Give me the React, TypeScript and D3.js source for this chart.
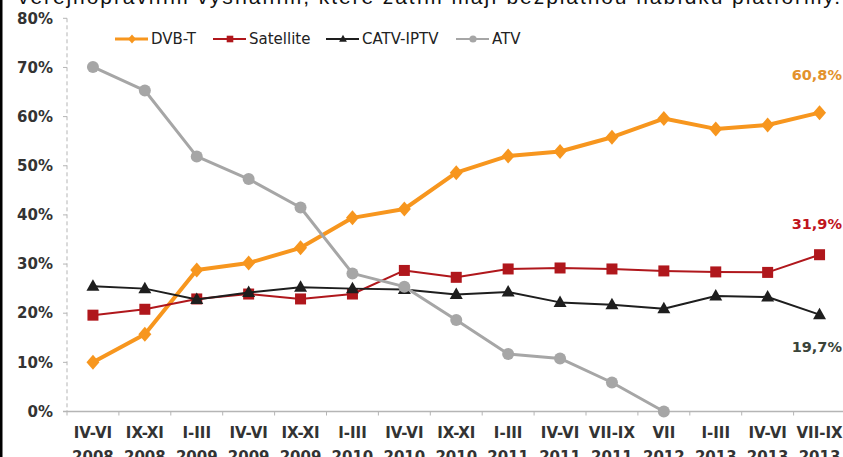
import React from 'react';
import * as d3 from 'd3';

// periods on the x axis (two lines each)
const periods = ['IV-VI', 'IX-XI', 'I-III', 'IV-VI', 'IX-XI', 'I-III', 'IV-VI', 'IX-XI', 'I-III', 'IV-VI', 'VII-IX', 'VII', 'I-III', 'IV-VI', 'VII-IX'];
const years = ['2008', '2008', '2009', '2009', '2009', '2010', '2010', '2010', '2011', '2011', '2011', '2012', '2013', '2013', '2013'];

const dvbt = [10.0, 15.7, 28.8, 30.2, 33.3, 39.4, 41.2, 48.6, 52.0, 52.9, 55.8, 59.6, 57.5, 58.3, 60.8];
const satellite = [19.6, 20.8, 22.9, 23.9, 22.9, 23.9, 28.7, 27.3, 29.0, 29.2, 29.0, 28.6, 28.4, 28.3, 31.9];
const catv = [25.5, 25.0, 22.8, 24.2, 25.3, 25.0, 24.8, 23.8, 24.3, 22.2, 21.7, 20.9, 23.5, 23.3, 19.7];
const atv = [70.1, 65.3, 51.9, 47.3, 41.5, 28.1, 25.4, 18.6, 11.7, 10.8, 5.9, 0.0];

const yTicks = [0, 10, 20, 30, 40, 50, 60, 70, 80];

const W = 843;
const H = 457;
const FONT = "'DejaVu Sans', sans-serif";

const series = [
  { name: 'DVB-T', values: dvbt, color: '#F7961E', width: 4, marker: 'diamond' },
  { name: 'Satellite', values: satellite, color: '#B0171C', width: 2, marker: 'square' },
  { name: 'CATV-IPTV', values: catv, color: '#1E1E1E', width: 2, marker: 'triangle' },
  { name: 'ATV', values: atv, color: '#A6A6A6', width: 3, marker: 'circle' },
];

const endLabels = [
  { text: '60,8%', value: 60.8, dy: -38, color: '#E3922C' },
  { text: '31,9%', value: 31.9, dy: -31, color: '#C0141C' },
  { text: '19,7%', value: 19.7, dy: 32, color: '#3A4439' },
];

function Marker({ kind, x, y, color, k = 1 }: { kind: string; x: number; y: number; color: string; k?: number }) {
  if (kind === 'diamond') {
    return <path d={`M${x},${y - 7.5 * k}L${x + 6.5 * k},${y}L${x},${y + 7.5 * k}L${x - 6.5 * k},${y}Z`} fill={color} />;
  }
  if (kind === 'square') {
    return <rect x={x - 5.5 * k} y={y - 5.5 * k} width={11 * k} height={11 * k} fill={color} />;
  }
  if (kind === 'triangle') {
    return <path d={`M${x},${y - 7 * k}L${x + 6.5 * k},${y + 4.5 * k}L${x - 6.5 * k},${y + 4.5 * k}Z`} fill={color} />;
  }
  return <circle cx={x} cy={y} r={6 * k} fill={color} />;
}

export default function App() {
  const x = d3.scaleBand<number>()
    .domain(d3.range(periods.length))
    .range([67, 67 + 51.9 * periods.length]);
  const y = d3.scaleLinear().domain([0, 80]).range([411.5, 18.3]);
  const cx = (i: number) => (x(i) as number) + x.bandwidth() / 2;

  const line = d3.line<number>()
    .x((_, i) => cx(i))
    .y(d => y(d));

  const legendX = [132, 230, 343, 473];
  const legendY = 39;

  return (
    <div style={{ position: 'absolute', left: 0, top: 0 }}>
      <svg width={W} height={H} style={{ display: 'block', background: '#fff' }}>
        {/* cut-off sentence above the chart */}
        <text x={18} y={4} fontFamily="'Liberation Sans', Arial, sans-serif" fontSize={21} fill="#111"
          textLength={822} lengthAdjust="spacing">
          veřejnoprávním vysíláním, které zatím mají bezplatnou nabídku platformy.
        </text>
        <rect x={0} y={0} width={2.5} height={H} fill="#000" />

        {/* y axis */}
        <line x1={67} x2={67} y1={y(80)} y2={y(0)} stroke="#B5B5B5" strokeDasharray="4,3" />
        {yTicks.map(t => (
          <g key={t}>
            <line x1={63} x2={67} y1={y(t)} y2={y(t)} stroke="#B5B5B5" />
            <text x={53} y={y(t)} dy="0.35em" textAnchor="end" fontFamily={FONT} fontWeight="bold"
              fontSize={15} fill="#333">{t}%</text>
          </g>
        ))}

        {/* x axis */}
        <line x1={63} x2={W} y1={y(0)} y2={y(0)} stroke="#B5B5B5" strokeWidth={1.5} />
        {d3.range(periods.length + 1).map(i => (
          <line key={i} x1={67 + i * x.step()} x2={67 + i * x.step()} y1={y(0)} y2={y(0) + 4} stroke="#B5B5B5" />
        ))}
        {periods.map((p, i) => (
          <text key={i} x={cx(i)} y={437.5} textAnchor="middle" fontFamily={FONT} fontWeight="bold"
            fontSize={15} fill="#333">
            <tspan x={cx(i)}>{p}</tspan>
            <tspan x={cx(i)} dy={24}>{years[i]}</tspan>
          </text>
        ))}

        {/* series */}
        {series.map(s => (
          <g key={s.name}>
            <path d={line(s.values) ?? ''} fill="none" stroke={s.color} strokeWidth={s.width} strokeLinejoin="round" />
            {s.values.map((v, i) => (
              <Marker key={i} kind={s.marker} x={cx(i)} y={y(v)} color={s.color} />
            ))}
          </g>
        ))}

        {/* end labels */}
        {endLabels.map(l => (
          <text key={l.text} x={842} y={y(l.value) + l.dy} dy="0.35em" textAnchor="end" fontFamily={FONT}
            fontWeight="bold" fontSize={14.5} fill={l.color}>{l.text}</text>
        ))}

        {/* legend */}
        {series.map((s, i) => (
          <g key={s.name}>
            <line x1={legendX[i] - 17} x2={legendX[i] + 16} y1={legendY} y2={legendY} stroke={s.color}
              strokeWidth={s.width === 4 ? 3 : 2} />
            <Marker kind={s.marker} x={legendX[i]} y={legendY} color={s.color} k={0.6} />
            <text x={legendX[i] + 19} y={legendY} dy="0.35em" fontFamily={FONT} fontSize={15} fill="#222">{s.name}</text>
          </g>
        ))}
      </svg>
    </div>
  );
}
